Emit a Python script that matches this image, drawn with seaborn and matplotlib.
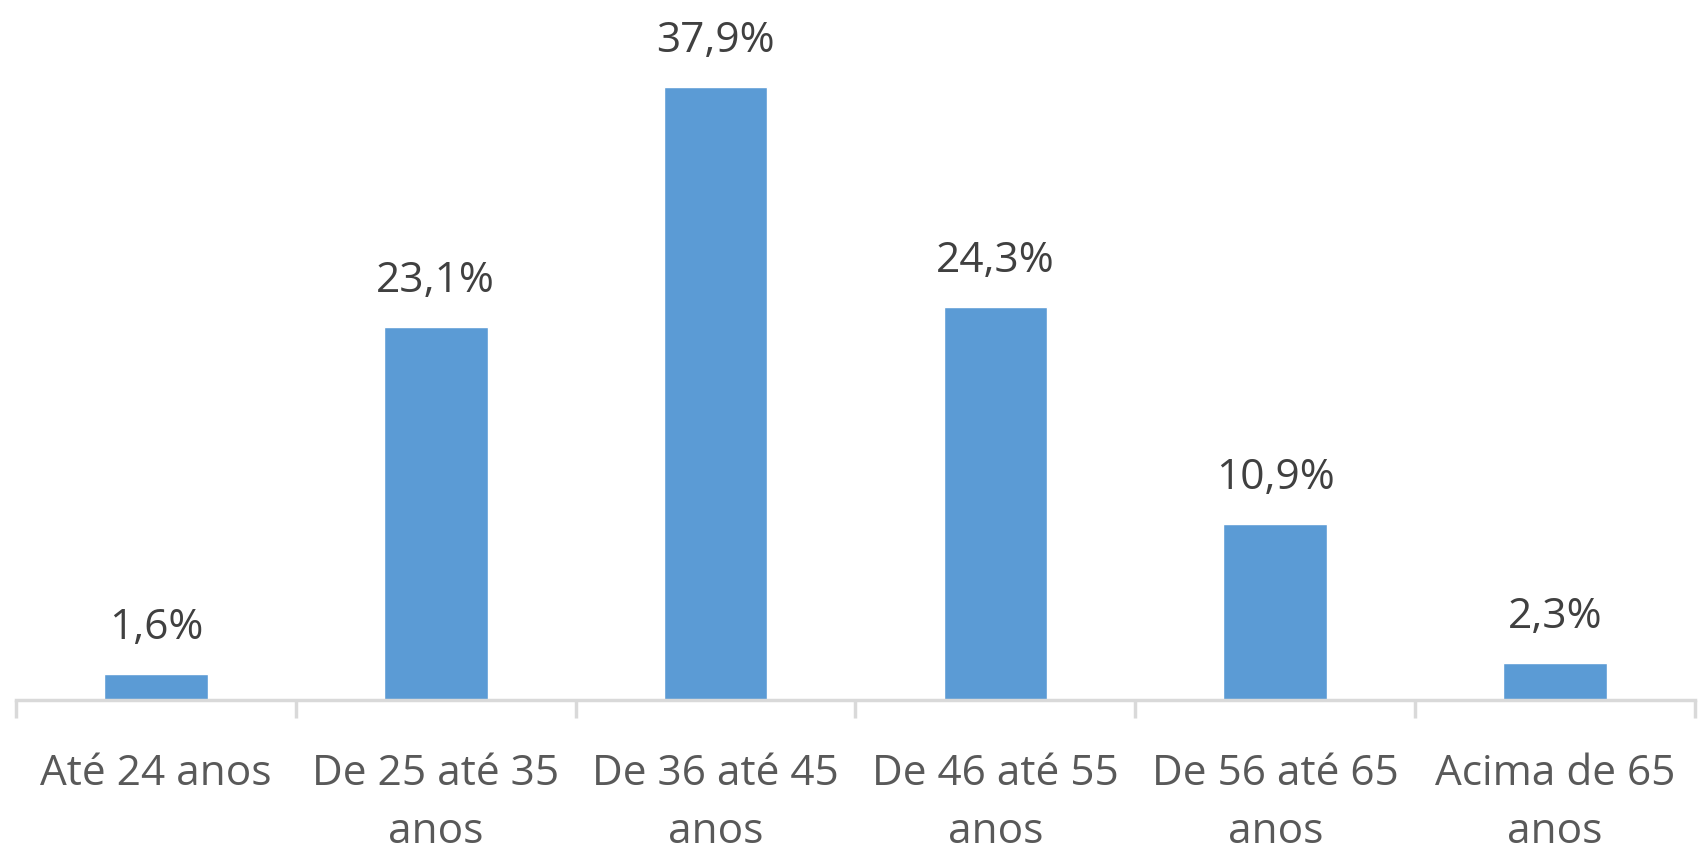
import numpy as np
import matplotlib.pyplot as plt
import seaborn as sns

# faixas etarias e percentuais
categories = ["Até 24 anos", "De 25 até 35\nanos", "De 36 até 45\nanos",
              "De 46 até 55\nanos", "De 56 até 65\nanos", "Acima de 65\nanos"]
values = [1.6, 23.1, 37.9, 24.3, 10.9, 2.3]

sns.set_theme(style="white")
plt.rcParams['font.family'] = ['Open Sans', 'DejaVu Sans']

fig = plt.figure(figsize=(16.98, 8.48), dpi=100)
ax = fig.add_axes([16 / 1698, 1 - 700 / 848, 1679 / 1698, 700 / 848])

sns.barplot(x=list(range(len(values))), y=values, color="#5B9BD5",
            saturation=1, width=0.37, ax=ax)

for i, v in enumerate(values):
    ax.annotate(f"{v:.1f}%".replace(".", ","), (i, v), xytext=(0, 18),
                textcoords="offset points", ha="center", va="bottom",
                fontsize=30.5, color="#404040")

ax.set_xlim(-0.5, len(values) - 0.5)
ax.set_ylim(0, 43.3)
ax.set_yticks([])
ax.set_xticks(range(len(values)))
ax.set_xticklabels(categories, fontsize=30.5, color="#595959", linespacing=1.5)
ax.set_xticks(np.arange(-0.5, len(values), 1), minor=True)
ax.tick_params(axis="x", which="major", length=0, pad=38)
ax.tick_params(axis="x", which="minor", length=13, width=2.5,
               color="#D9D9D9", bottom=True, direction="out")
for s in ["top", "left", "right"]:
    ax.spines[s].set_visible(False)
ax.spines["bottom"].set_color("#D9D9D9")
ax.spines["bottom"].set_linewidth(2.5)
ax.set_xlabel("")
ax.set_ylabel("")

fig.savefig("out.png", dpi=100)
